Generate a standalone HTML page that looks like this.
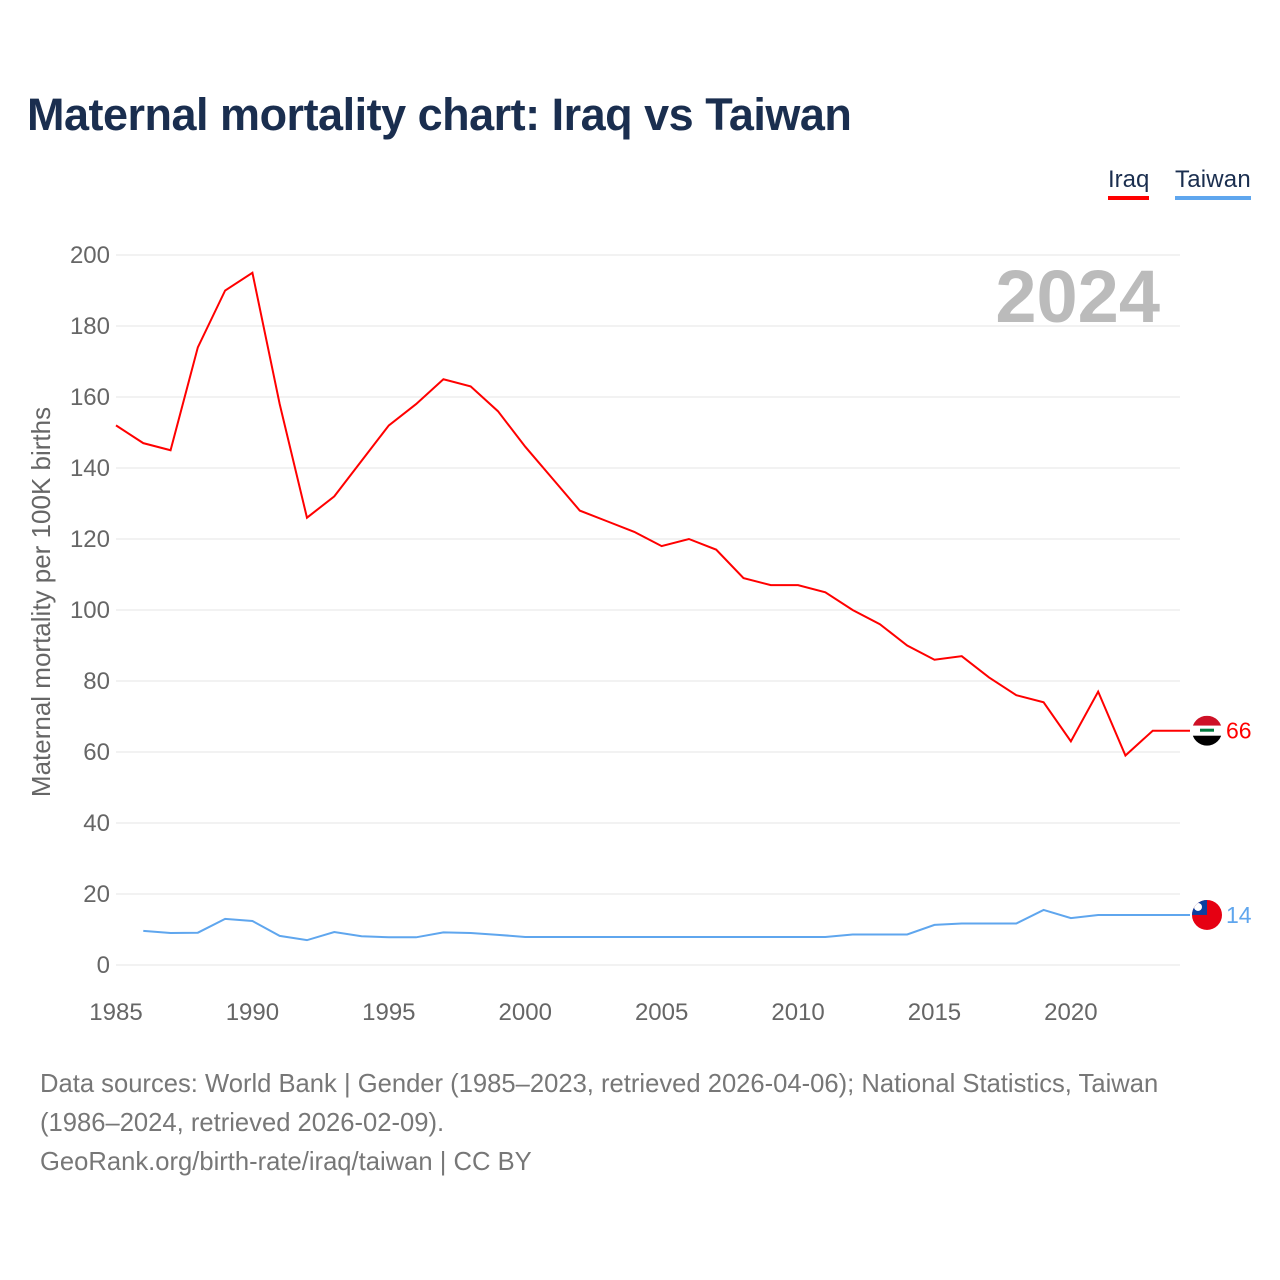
<!DOCTYPE html>
<html><head><meta charset="utf-8">
<style>
body{margin:0;background:#fff;font-family:"Liberation Sans",sans-serif;}
#wrap{position:relative;width:1280px;height:1280px;overflow:hidden;}
h1{position:absolute;left:27px;top:89px;margin:0;font-size:45px;color:#1a2e4f;font-weight:bold;letter-spacing:-0.5px;}
.leg{position:absolute;top:166px;font-size:24px;color:#1a2e4f;padding-bottom:2px;}
.src{position:absolute;left:40px;top:1065px;font-size:25.6px;color:#777;line-height:39px;}
</style></head>
<body><div id="wrap">
<h1>Maternal mortality chart: Iraq vs Taiwan</h1>
<div class="leg" style="left:1108px;border-bottom:4px solid #f00">Iraq</div>
<div class="leg" style="left:1175px;border-bottom:4px solid #5fa6ee;letter-spacing:0.2px">Taiwan</div>
<svg id="chart" width="1280" height="1280" style="position:absolute;left:0;top:0"></svg>
<div class="src">Data sources: World Bank | Gender (1985–2023, retrieved 2026-04-06); National Statistics, Taiwan<br>(1986–2024, retrieved 2026-02-09).<br>GeoRank.org/birth-rate/iraq/taiwan | CC BY</div>
</div>
<script>
const yTicks=[0,20,40,60,80,100,120,140,160,180,200];
const xTicks=[1985,1990,1995,2000,2005,2010,2015,2020];
const iraqStart=1985;
const iraqValues=[152,147,145,174,190,195,158,126,132,142,152,158,165,163,156,146,137,128,125,122,118,120,117,109,107,107,105,100,96,90,86,87,81,76,74,63,77,59,66];
const taiwanStart=1986;
const taiwanValues=[9.6,9.0,9.1,13.0,12.4,8.2,7.0,9.3,8.1,7.8,7.8,9.2,9.0,8.5,7.9,7.9,7.9,7.9,7.9,7.9,7.9,7.9,7.9,7.9,7.9,7.9,8.6,8.6,8.6,11.3,11.7,11.7,11.7,15.5,13.2,14.1,14.1,14.1,14.1];
const NS="http://www.w3.org/2000/svg";
const svg=document.getElementById('chart');
const X=yr=>116+(yr-1985)*(1180-116)/39;
const Y=v=>965-v*(965-255)/200;
function mk(t,a){const e=document.createElementNS(NS,t);for(const k in a)e.setAttribute(k,a[k]);svg.appendChild(e);return e;}
yTicks.forEach(v=>{
 const l=mk('line',{x1:116,x2:1180,y1:Y(v),y2:Y(v),stroke:'#e6e6e6','stroke-width':1});
 
 
 const t=mk('text',{x:110,y:Y(v)+8,'text-anchor':'end','font-size':24,fill:'#666'});
 t.textContent=v;
 
 
});
xTicks.forEach(yr=>{
 const t=mk('text',{x:X(yr),y:1020,'text-anchor':'middle','font-size':24,fill:'#666'});
 t.textContent=yr;
 
 
});
const yt=mk('text',{x:0,y:0,transform:'translate(50,602) rotate(-90)','text-anchor':'middle','font-size':26,fill:'#666'});
yt.textContent='Maternal mortality per 100K births';


const yr=mk('text',{x:1160,y:322,'text-anchor':'end','font-size':74,'font-weight':'bold',fill:'#bbb'});
yr.textContent='2024';


function series(vals,start,color,name){
 const pts=vals.map((v,i)=>X(start+i)+','+Y(v));
 const last=vals[vals.length-1];
 pts.push(X(2024)+','+Y(last));
 pts.push('1190,'+Y(last));
 const p=mk('polyline',{points:pts.join(' '),fill:'none',stroke:color,'stroke-width':2});
 
 
 const t=mk('text',{x:1226,y:Y(last)+8,'font-size':23,fill:color});
 t.textContent=Math.round(last);
 
 
 return Y(last);
}
const iy=series(iraqValues,iraqStart,'#f00','iraq');
const ty=series(taiwanValues,taiwanStart,'#5fa6ee','taiwan');
const g1=mk('g',{});


g1.innerHTML=`<clipPath id="c1"><circle cx="1207" cy="${iy}" r="15"/></clipPath><g clip-path="url(#c1)"><rect x="1190" y="${iy-15}" width="34" height="10" fill="#ce1126"/><rect x="1190" y="${iy-5}" width="34" height="10" fill="#fff"/><rect x="1190" y="${iy+5}" width="34" height="10" fill="#000"/><rect x="1200" y="${iy-2}" width="14" height="3" fill="#007a3d"/></g>`;
svg.appendChild(g1);
const g2=mk('g',{});


g2.innerHTML=`<clipPath id="c2"><circle cx="1207" cy="${ty}" r="15"/></clipPath><g clip-path="url(#c2)"><rect x="1190" y="${ty-15}" width="34" height="30" fill="#e60012"/><rect x="1190" y="${ty-15}" width="17" height="15" fill="#0b3fa0"/><circle cx="1198" cy="${ty-8}" r="4" fill="#fff"/></g>`;
svg.appendChild(g2);
</script>
</body></html>
